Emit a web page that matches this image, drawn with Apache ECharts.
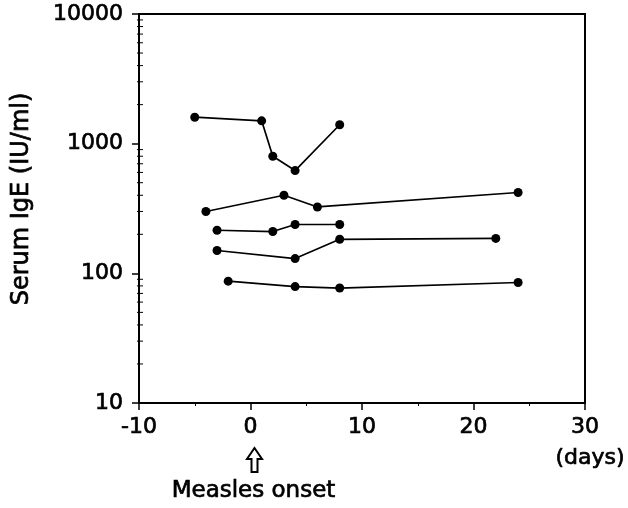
<!DOCTYPE html>
<html>
<head>
<meta charset="utf-8">
<script src="https://cdn.jsdelivr.net/npm/echarts@6/dist/echarts.min.js"></script>
<style>
  html, body { margin: 0; padding: 0; background: #fff; }
  #chart { width: 628px; height: 508px; }
</style>
</head>
<body>
<div id="chart"></div>
<script>
// patients, days from measles onset vs serum IgE (IU/ml)
const days1 = [-5, 1, 2, 4, 8];
const ige1 = [1600, 1500, 800, 620, 1400];
const days2 = [-4, 3, 6, 24];
const ige2 = [300, 400, 325, 420];
const days3 = [-3, 2, 4, 8];
const ige3 = [215, 210, 238, 238];
const days4 = [-3, 4, 8, 22];
const ige4 = [150, 130, 183, 186];
const days5 = [-2, 4, 8, 24];
const ige5 = [87, 79, 77, 85];

const yMinorTicks = [20, 30, 40, 50, 60, 70, 80, 90,
  200, 300, 400, 500, 600, 700, 800, 900, 2000, 3000, 4000, 5000, 6000, 7000, 8000, 9000];

const FONT = "DejaVu Sans";
// scanned print looks heavier, thicken glyphs a little
const heavy = { textBorderColor: "#000", textBorderWidth: 0.7 };

function pairs(xs, ys) {
  return xs.map((x, i) => [x, ys[i]]);
}

const lineSeries = [[days1, ige1], [days2, ige2], [days3, ige3], [days4, ige4], [days5, ige5]].map((d) => ({
  type: "line",
  data: pairs(d[0], d[1]),
  symbol: "circle",
  symbolSize: 9,
  lineStyle: { color: "#000", width: 1.7 },
  itemStyle: { color: "#000" },
  z: 3,
}));

const chart = echarts.init(document.getElementById("chart"));

const option = {
  animation: false,
  grid: {
    left: 139, right: 43, top: 14, bottom: 105,
    show: true, borderColor: "#000", borderWidth: 2, backgroundColor: "transparent",
  },
  xAxis: {
    type: "value",
    min: -10, max: 30, interval: 10,
    splitLine: { show: false },
    axisLine: { onZero: false, lineStyle: { color: "#000", width: 2 } },
    axisTick: { length: 7, lineStyle: { color: "#000", width: 1.5 } },
    minorTick: { show: true, splitNumber: 2, length: 3, lineStyle: { color: "#000", width: 1 } },
    axisLabel: Object.assign({ color: "#000", fontFamily: FONT, fontSize: 22, margin: 13 }, heavy),
  },
  yAxis: {
    type: "log",
    logBase: 10,
    min: 10, max: 10000,
    splitLine: { show: false },
    axisLine: { onZero: false, lineStyle: { color: "#000", width: 2 } },
    axisTick: { length: 7, lineStyle: { color: "#000", width: 1.5 } },
    axisLabel: Object.assign({
      color: "#000", fontFamily: FONT, fontSize: 22, margin: 16,
      formatter: (v) => String(Math.round(v)),
    }, heavy),
  },
  series: lineSeries.concat([{
    type: "custom",
    silent: true,
    clip: false,
    data: yMinorTicks.map((v) => [-10, v]),
    renderItem: (params, api) => {
      const p = api.coord([api.value(0), api.value(1)]);
      return {
        type: "line",
        shape: { x1: p[0] - 2, y1: p[1], x2: p[0] + 4, y2: p[1] },
        style: { stroke: "#000", lineWidth: 1 },
      };
    },
    z: 2,
  }]),
};
chart.setOption(option);

// y title, annotation under the x axis at day 0, and the unit under 30
const p0 = chart.convertToPixel({ gridIndex: 0 }, [0, 10]);
const p30 = chart.convertToPixel({ gridIndex: 0 }, [30, 10]);
const ax = p0[0] + 4;
const at = p0[1] + 45;
const txt = { fill: "#000", stroke: "#000", lineWidth: 0.7, textAlign: "center", textVerticalAlign: "middle" };
chart.setOption({
  graphic: [
    {
      type: "text",
      x: 22, y: 199, rotation: Math.PI / 2,
      style: Object.assign({ text: "Serum IgE (IU/ml)", font: "24px " + FONT }, txt),
    },
    {
      type: "polygon",
      shape: {
        points: [
          [ax, at], [ax + 7.5, at + 11], [ax + 3, at + 11], [ax + 3, at + 24],
          [ax - 3, at + 24], [ax - 3, at + 11], [ax - 7.5, at + 11],
        ],
      },
      style: { fill: "#fff", stroke: "#000", lineWidth: 2 },
    },
    {
      type: "text",
      x: p0[0] + 3, y: p0[1] + 88,
      style: Object.assign({ text: "Measles onset", font: "23px " + FONT }, txt),
    },
    {
      type: "text",
      x: p30[0] + 5, y: p30[1] + 55,
      style: Object.assign({ text: "(days)", font: "22px " + FONT }, txt),
    },
  ],
});
</script>
</body>
</html>
